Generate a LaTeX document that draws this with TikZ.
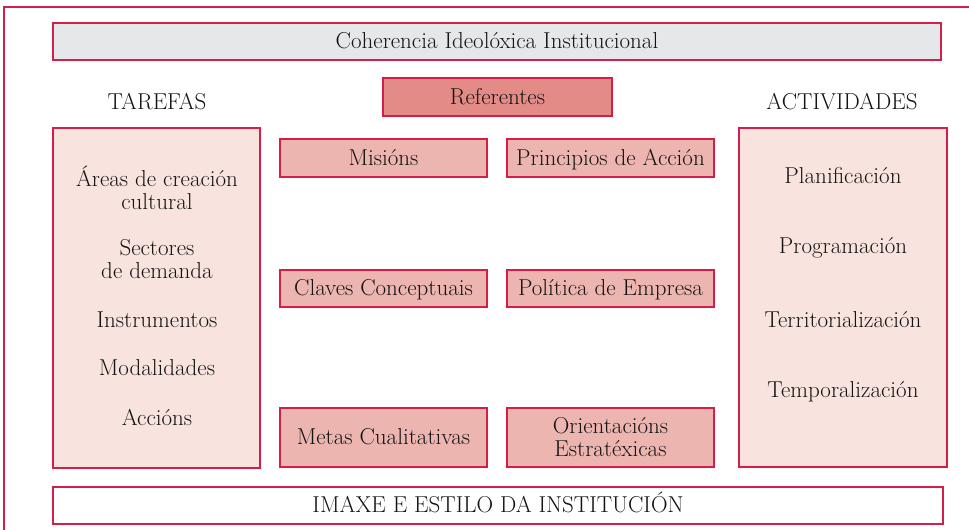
\documentclass[tikz,border=0pt]{standalone}
\usepackage{fontspec}
\usepackage{tikz}

\definecolor{crimson}{RGB}{212,30,72}
\definecolor{bargray}{RGB}{230,231,232}
\definecolor{palepink}{RGB}{248,227,223}
\definecolor{midpink}{RGB}{237,181,176}
\definecolor{deeppink}{RGB}{227,139,134}

\tikzset{
  box/.style={draw=crimson, line width=1.3pt, inner sep=0pt, align=center,
    text=black!92, font=\fontsize{23}{23}\selectfont},
  oneline/.style={text height=16pt, text depth=2pt},
  label/.style={inner sep=0pt, align=center, text=black!92, font=\fontsize{23}{23}\selectfont}
}

\begin{document}
\begin{tikzpicture}[x=1pt, y=-1pt]

        \useasboundingbox (0, 0) rectangle (969, 530);
        \draw[crimson, line width=1.3pt] (4, 530) -- (4, 7) -- (969, 7);

        \node[box, oneline, fill=bargray, minimum width=888pt, minimum height=37pt] (coherencia) at (497, 41.5) {Coherencia Ideolóxica Institucional};
        \node[box, oneline, fill=deeppink, minimum width=229pt, minimum height=38pt] (referentes) at (497.5, 97) {Referentes};
        \node[label] (tarefasTitle) at (157, 102) {TAREFAS};
        \node[label] (actividadesTitle) at (842, 102) {ACTIVIDADES};

        \node[box, fill=palepink, minimum width=207pt, minimum height=340pt] (tarefas) at (156.5, 298) {};
        \node[box, fill=palepink, minimum width=208pt, minimum height=339pt] (actividades) at (843, 297.5) {};

        \node[box, oneline, fill=midpink, minimum width=207pt, minimum height=38pt] (misions) at (383.5, 158) {Misións};
        \node[box, oneline, fill=midpink, minimum width=207pt, minimum height=38pt] (principios) at (610.5, 158) {Principios de Acción};
        \node[box, oneline, fill=midpink, minimum width=207pt, minimum height=37pt] (claves) at (383.5, 288.5) {Claves Conceptuais};
        \node[box, oneline, fill=midpink, minimum width=207pt, minimum height=37pt] (politica) at (610.5, 288.5) {Política de Empresa};
        \node[box, oneline, fill=midpink, minimum width=207pt, minimum height=59pt] (metas) at (383.5, 437.5) {Metas Cualitativas};
        \node[box, fill=midpink, minimum width=207pt, minimum height=59pt] (orientacions) at (610.5, 437.5) {Orientacións\\Estratéxicas};

        \node[label] (areas) at (157, 187.5) {Áreas de creación\\cultural};
        \node[label] (sectores) at (157, 259.5) {Sectores\\de demanda};
        \node[label] (instrumentos) at (157, 320) {Instrumentos};
        \node[label] (modalidades) at (157, 368) {Modalidades};
        \node[label] (accions) at (157, 417) {Accións};

        \node[label] (planificacion) at (843, 176) {Planificación};
        \node[label] (programacion) at (843, 248) {Programación};
        \node[label] (territorial) at (843, 320) {Territorialización};
        \node[label] (temporal) at (843, 392) {Temporalización};

        \node[box, oneline, fill=white, minimum width=890pt, minimum height=37pt] (imaxe) at (498, 505.5) {IMAXE E ESTILO DA INSTITUCIÓN};

      \end{tikzpicture}
\end{document}
